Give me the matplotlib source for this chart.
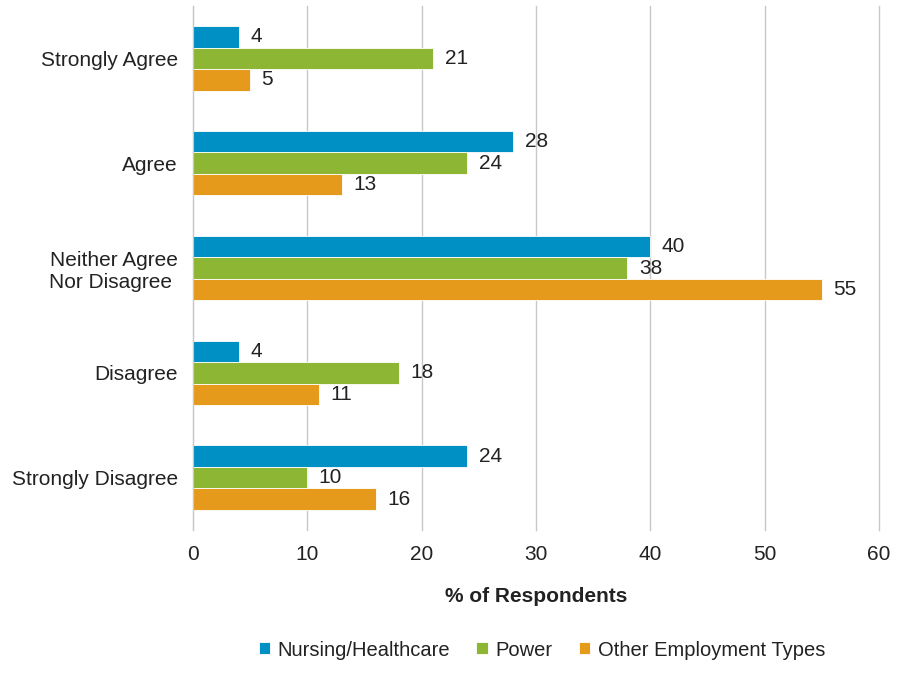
import matplotlib
matplotlib.use('Agg')
import matplotlib.pyplot as plt
import numpy as np

plt.rcParams['font.family'] = ['Liberation Sans', 'DejaVu Sans']

kategorie = ['Strongly Agree', 'Agree', 'Neither Agree\nNor Disagree ', 'Disagree', 'Strongly Disagree']
nursing = [4, 28, 40, 4, 24]
power = [21, 24, 38, 18, 10]
other = [5, 13, 55, 11, 16]
serie = ['Nursing/Healthcare', 'Power', 'Other Employment Types']
kolory = ['#0090C4', '#8DB634', '#E59A1B']
xticks = [0, 10, 20, 30, 40, 50, 60]

fig = plt.figure(figsize=(9.14, 6.86), dpi=100)
ax = fig.add_axes([193/914, 1 - 530/686, (879-193)/914, (530-6)/686])

y = np.arange(len(kategorie))
h = 0.205
for i, (wartosci, nazwa, kolor) in enumerate(zip([nursing, power, other], serie, kolory)):
    pozycje = y + (i - 1) * h
    bary = ax.barh(pozycje, wartosci, height=h, color=kolor, edgecolor='white',
                   linewidth=0.6, label=nazwa, zorder=3)
    for b, v in zip(bary, wartosci):
        ax.text(v + 1.0, b.get_y() + b.get_height() / 2, str(v), va='center', ha='left',
                fontsize=15, color='#222222')

ax.set_ylim(len(kategorie) - 0.5, -0.5)
ax.set_xlim(0, 60)
ax.set_xticks(xticks)
ax.set_yticks(y)
ax.set_yticklabels(kategorie, fontsize=15, color='#222222')
ax.tick_params(axis='x', labelsize=15, colors='#222222', length=0, pad=11)
ax.tick_params(axis='y', length=0, pad=11)
ax.grid(axis='x', color='#c8c8c8', linewidth=1, zorder=0)
for g in ax.get_xgridlines():
    g.set_clip_on(False)
for s in ['top', 'right', 'bottom']:
    ax.spines[s].set_visible(False)
ax.spines['left'].set_color('#c8c8c8')
ax.spines['left'].set_zorder(4)
ax.set_xlabel('% of Respondents', fontsize=15, fontweight='bold', color='#222222', labelpad=16)

fig.legend(loc='center', bbox_to_anchor=(542/914, 1 - 650/686), ncol=3, frameon=False,
           fontsize=14.5, handlelength=0.55, handleheight=0.55, handletextpad=0.4,
           columnspacing=1.3, labelcolor='#222222')

fig.savefig('out.png', dpi=100)
